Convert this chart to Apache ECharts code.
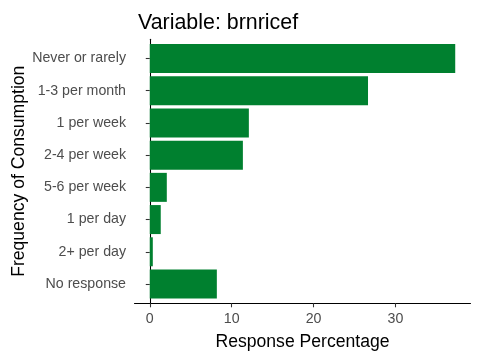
<!DOCTYPE html>
<html>
<head>
<meta charset="utf-8">
<script src="https://cdn.jsdelivr.net/npm/echarts@6/dist/echarts.min.js"></script>
<style>html,body{margin:0;padding:0;background:#fff}#c{width:480px;height:360px}</style>
</head>
<body>
<div id="c"></div>
<script>
const categories = ["Never or rarely", "1-3 per month", "1 per week", "2-4 per week", "5-6 per week", "1 per day", "2+ per day", "No response"];
const values = [37.3, 26.65, 12.1, 11.37, 2.08, 1.34, 0.37, 8.19];
const xTicks = [0, 10, 20, 30];

const FONT = "'Liberation Sans', Arial, sans-serif";
const xMin = -1.865, xMax = 39.165;

const chart = echarts.init(document.getElementById('c'), null, {renderer: 'canvas'});
chart.setOption({
  backgroundColor: '#ffffff',
  animation: false,
  title: {
    text: 'Variable: brnricef',
    left: 133, top: 8,
    textStyle: {fontFamily: FONT, fontSize: 21.4, fontWeight: 'normal', color: '#000'}
  },
  grid: [
    {left: 134.5, right: 9.5, top: 39.2, bottom: 56.7},
    {left: 134.5, right: 9.5, top: 42.4, bottom: 59.9}
  ],
  xAxis: [
    {
      type: 'value', gridIndex: 0, min: xMin, max: xMax,
      name: 'Response Percentage', nameLocation: 'middle', nameGap: 29.5,
      nameTextStyle: {fontFamily: FONT, fontSize: 17.6, color: '#000'},
      axisLine: {show: true, lineStyle: {color: '#000', width: 1.07}},
      axisTick: {show: true, length: 4, lineStyle: {color: '#333', width: 1.07}, customValues: xTicks},
      axisLabel: {fontFamily: FONT, fontSize: 14.2, color: '#4d4d4d', margin: 8.5, customValues: xTicks},
      splitLine: {show: false}
    },
    {
      type: 'value', gridIndex: 1, min: xMin, max: xMax, show: false
    }
  ],
  yAxis: [
    {
      type: 'value', gridIndex: 0, min: 0, max: 1,
      name: 'Frequency of Consumption', nameLocation: 'middle', nameGap: 106,
      nameTextStyle: {fontFamily: FONT, fontSize: 17.6, color: '#000'},
      axisLine: {show: true, lineStyle: {color: '#000', width: 1.07}},
      axisTick: {show: false}, axisLabel: {show: false}, splitLine: {show: false}
    },
    {
      type: 'category', gridIndex: 1, data: categories, inverse: true,
      axisLine: {show: false},
      axisTick: {show: true, length: 4, alignWithLabel: true, lineStyle: {color: '#333', width: 1.07}},
      axisLabel: {fontFamily: FONT, fontSize: 14.2, color: '#4d4d4d', margin: 8.5, padding: [2, 0, 0, 0]},
      splitLine: {show: false}
    }
  ],
  series: [{
    type: 'bar', xAxisIndex: 1, yAxisIndex: 1,
    data: values, barWidth: 29,
    itemStyle: {color: '#00802f'}
  }]
});
</script>
</body>
</html>
